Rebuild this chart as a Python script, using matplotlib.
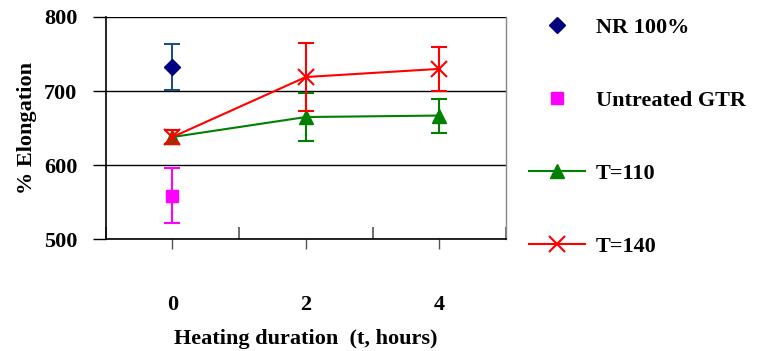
import matplotlib
matplotlib.use("Agg")
import matplotlib.pyplot as plt
from matplotlib.ticker import FixedLocator
from matplotlib.lines import Line2D

plt.rcParams['font.family'] = ['Liberation Serif', 'DejaVu Serif']
plt.rcParams['font.weight'] = 'bold'

categories = ["0", "2", "4"]
nr_value = [732]
nr_err = [31]
gtr_value = [559]
gtr_err = [37]
t110_values = [638, 665, 667]
t110_err = [10, 33, 23]
t140_values = [638, 719, 730]
t140_err = [10, 46, 30]

FS = 16

fig = plt.figure(figsize=(7.6, 3.51), dpi=100)
ax = fig.add_axes([105.7/760, 1-239.3/351, (506-105.7)/760, (239.3-17)/351])

x = list(range(len(categories)))
cap = 5.8
ax.errorbar(x, t110_values, yerr=t110_err, color='#008000', lw=1.5, marker='^', ms=10,
            capsize=cap, elinewidth=1.5, capthick=1.5, zorder=3)
ax.errorbar(x, t140_values, yerr=t140_err, color='#FF0000', lw=1.5, marker='x', ms=11, mew=1.5,
            capsize=cap, elinewidth=1.5, capthick=1.5, zorder=4)
ax.errorbar(x[:1], nr_value, yerr=nr_err, color='#1F4E79', ls='none', marker='D', ms=8,
            mfc='#000080', mec='#000080', capsize=cap, elinewidth=1.5, capthick=1.5, zorder=3)
ax.errorbar(x[:1], gtr_value, yerr=gtr_err, color='#FF00FF', ls='none', marker='s', ms=9,
            capsize=cap, elinewidth=1.5, capthick=1.5, zorder=3)

ax.set_xlim(-0.5, 2.5)
ax.set_ylim(500, 800)
ax.set_yticks([500, 600, 700, 800])
ax.yaxis.grid(True, color='black', lw=1.0)
ax.set_axisbelow(True)

ax.set_xticks(x)
ax.set_xticklabels(categories)
ax.xaxis.set_minor_locator(FixedLocator([-0.5, 0.5, 1.5, 2.5]))
ax.tick_params(axis='x', which='major', direction='out', length=7, width=1, color='#555555',
               pad=33, labelsize=FS)
ax.tick_params(axis='x', which='minor', direction='in', length=9, width=1.2, color='#555555')
ax.tick_params(axis='y', which='major', direction='out', length=9.5, width=1, pad=11, labelsize=FS)
for lab in ax.get_xticklabels() + ax.get_yticklabels():
    lab.set_fontweight('bold')

for s in ['top', 'right']:
    ax.spines[s].set_visible(False)
ax.spines['left'].set_linewidth(1.2)
ax.spines['bottom'].set_linewidth(1.2)
ax.spines['right'].set_visible(True)
ax.spines['right'].set_color('#888888')
ax.spines['right'].set_linewidth(1)

ax.set_xlabel('Heating duration  (t, hours)', fontsize=FS, fontweight='bold', labelpad=10)
ax.set_ylabel('% Elongation', fontsize=FS, fontweight='bold', labelpad=5)

handles = [
    Line2D([], [], color='#000080', marker='D', ms=8, ls='none'),
    Line2D([], [], color='#FF00FF', marker='s', ms=9, ls='none'),
    Line2D([], [], color='#008000', marker='^', ms=10, lw=1.5),
    Line2D([], [], color='#FF0000', marker='x', ms=11, mew=1.5, lw=1.5),
]
labels = ['NR 100%', 'Untreated GTR', 'T=110', 'T=140']
leg = fig.legend(handles, labels, loc='upper left', bbox_to_anchor=(529/760, 1-17/351),
                 frameon=False, prop={'size': FS, 'weight': 'bold'}, handlelength=2.5,
                 handletextpad=0.5, labelspacing=2.37, borderaxespad=0, borderpad=0)

fig.savefig('out.png', dpi=100)
